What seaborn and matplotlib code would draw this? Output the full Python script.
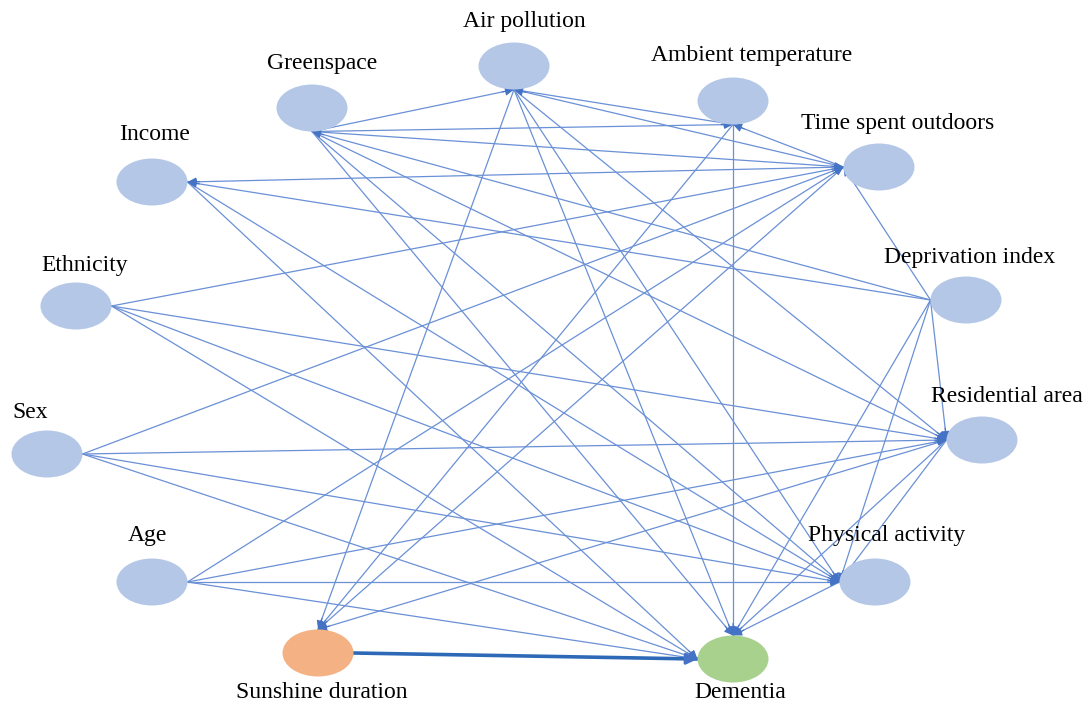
import pandas as pd
import matplotlib
matplotlib.use('Agg')
import matplotlib.pyplot as plt
from matplotlib.patches import Ellipse
import seaborn as sns

# nodes of the diagram
nodes = ['Air pollution', 'Ambient temperature', 'Greenspace', 'Time spent outdoors',
         'Income', 'Ethnicity', 'Deprivation index', 'Sex', 'Residential area',
         'Age', 'Physical activity', 'Sunshine duration', 'Dementia']
node_x = [514, 733, 312, 879, 152, 76, 966, 47, 982, 152, 875, 318, 733]
node_y = [66, 101, 108, 167, 182, 306, 300, 454, 440, 582, 582, 653, 659]
label_x = [524, 752, 322, 898, 155, 85, 970, 30, 1007, 147, 887, 322, 740]
label_y = [22, 55, 63, 124, 135, 265, 258, 412, 397, 535, 536, 693, 693]
exposure = 'Sunshine duration'
outcome = 'Dementia'

# edges: (from, port, to, port), arrowhead at the second node
edges = [
    ('Sunshine duration', 'R', 'Dementia', 'L'),
    ('Age', 'R', 'Time spent outdoors', 'L'),
    ('Age', 'R', 'Residential area', 'L'),
    ('Age', 'R', 'Physical activity', 'L'),
    ('Age', 'R', 'Dementia', 'L'),
    ('Sex', 'R', 'Time spent outdoors', 'L'),
    ('Sex', 'R', 'Residential area', 'L'),
    ('Sex', 'R', 'Physical activity', 'L'),
    ('Sex', 'R', 'Dementia', 'L'),
    ('Ethnicity', 'R', 'Time spent outdoors', 'L'),
    ('Ethnicity', 'R', 'Residential area', 'L'),
    ('Ethnicity', 'R', 'Physical activity', 'L'),
    ('Ethnicity', 'R', 'Dementia', 'L'),
    ('Time spent outdoors', 'L', 'Income', 'R'),
    ('Deprivation index', 'L', 'Income', 'R'),
    ('Income', 'R', 'Physical activity', 'L'),
    ('Income', 'R', 'Dementia', 'L'),
    ('Greenspace', 'B', 'Air pollution', 'B'),
    ('Greenspace', 'B', 'Ambient temperature', 'B'),
    ('Greenspace', 'B', 'Time spent outdoors', 'L'),
    ('Deprivation index', 'L', 'Greenspace', 'B'),
    ('Greenspace', 'B', 'Residential area', 'L'),
    ('Greenspace', 'B', 'Physical activity', 'L'),
    ('Greenspace', 'B', 'Dementia', 'T'),
    ('Air pollution', 'B', 'Ambient temperature', 'B'),
    ('Time spent outdoors', 'L', 'Air pollution', 'B'),
    ('Air pollution', 'B', 'Sunshine duration', 'T'),
    ('Air pollution', 'B', 'Dementia', 'T'),
    ('Air pollution', 'B', 'Physical activity', 'L'),
    ('Air pollution', 'B', 'Residential area', 'L'),
    ('Time spent outdoors', 'L', 'Ambient temperature', 'B'),
    ('Ambient temperature', 'B', 'Dementia', 'T'),
    ('Ambient temperature', 'B', 'Sunshine duration', 'T'),
    ('Deprivation index', 'L', 'Time spent outdoors', 'L'),
    ('Time spent outdoors', 'L', 'Sunshine duration', 'T'),
    ('Deprivation index', 'L', 'Residential area', 'L'),
    ('Deprivation index', 'L', 'Physical activity', 'L'),
    ('Deprivation index', 'L', 'Dementia', 'T'),
    ('Residential area', 'L', 'Sunshine duration', 'T'),
    ('Residential area', 'L', 'Dementia', 'T'),
    ('Residential area', 'L', 'Physical activity', 'L'),
    ('Physical activity', 'L', 'Dementia', 'T'),
]

W, H = 71, 47
pos = {n: (x, y) for n, x, y in zip(nodes, node_x, node_y)}


def port(name, side):
    x, y = pos[name]
    off = {'L': (-W / 2, 0), 'R': (W / 2, 0), 'T': (0, -H / 2), 'B': (0, H / 2)}[side]
    return x + off[0], y + off[1]


sns.set_theme(style='white')
plt.rcParams['font.family'] = ['Liberation Serif', 'DejaVu Serif']

fig = plt.figure(figsize=(10.83, 7.13), dpi=100)
ax = fig.add_axes([0, 0, 1, 1])

rows = []
for i, (a, pa, b, pb) in enumerate(edges):
    x0, y0 = port(a, pa)
    x1, y1 = port(b, pb)
    rows.append({'edge': i, 'x': x0, 'y': y0})
    rows.append({'edge': i, 'x': x1, 'y': y1})
seg = pd.DataFrame(rows)

sns.lineplot(data=seg[seg['edge'] > 0], x='x', y='y', units='edge', estimator=None,
             sort=False, color='#6A90D6', linewidth=0.9, ax=ax, zorder=2)
sns.lineplot(data=seg[seg['edge'] == 0], x='x', y='y', units='edge', estimator=None,
             sort=False, color='#2E69B8', linewidth=2.6, ax=ax, zorder=3)
ax.set_xlim(0, 1083)
ax.set_ylim(713, 0)
ax.axis('off')

# arrowheads
for i, (a, pa, b, pb) in enumerate(edges):
    x0, y0 = port(a, pa)
    x1, y1 = port(b, pb)
    dx, dy = x1 - x0, y1 - y0
    d = (dx ** 2 + dy ** 2) ** 0.5
    back = 12
    ax.annotate('', xy=(x1, y1), xytext=(x1 - dx / d * back, y1 - dy / d * back),
                arrowprops=dict(arrowstyle='-|>', color='#4472C4',
                                lw=0.8 if i else 2.2,
                                mutation_scale=13 if i else 16,
                                shrinkA=0, shrinkB=0), zorder=4)

for n, x, y, lx, ly in zip(nodes, node_x, node_y, label_x, label_y):
    if n == exposure:
        fc = '#F4B183'
    elif n == outcome:
        fc = '#A9D18E'
    else:
        fc = '#B4C7E7'
    ax.add_patch(Ellipse((x, y), W, H, facecolor=fc, edgecolor='none', zorder=5))
    ax.text(lx, ly, n, ha='center', va='center', fontsize=17, color='black', zorder=6)

fig.savefig('out.png', dpi=100)
